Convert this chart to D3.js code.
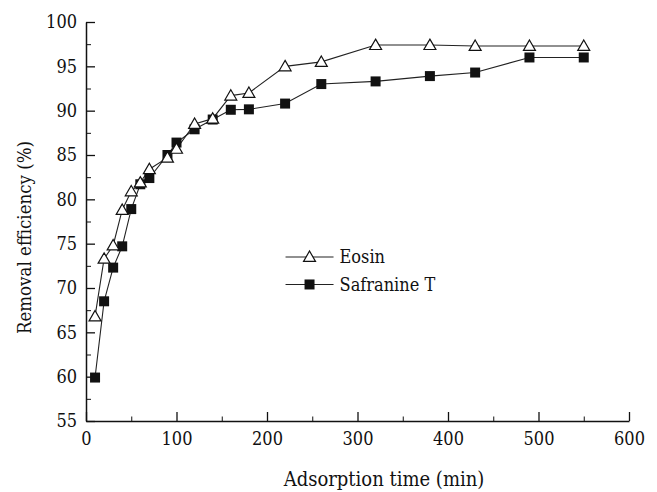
<!DOCTYPE html>
<html>
<head>
<meta charset="utf-8">
<script src="https://cdn.jsdelivr.net/npm/d3@7"></script>
<style>
  body { margin: 0; background: #fff; }
  svg text { fill: #111; }
  .axis path, .axis line { stroke: #111; }
  .axis text { font-size: 18px; }
</style>
</head>
<body>
<div class="chart"></div>
<script>
// data
var times = [10, 20, 30, 40, 50, 60, 70, 90, 100, 120, 140, 160, 180, 220, 260, 320, 380, 430, 490, 550];
var eosin = [66.8, 73.3, 74.8, 78.8, 80.9, 81.9, 83.4, 84.7, 85.7, 88.5, 89.1, 91.7, 92.0, 95.0, 95.5, 97.4, 97.4, 97.3, 97.3, 97.3];
var safranine = [59.9, 68.5, 72.3, 74.7, 78.9, 81.7, 82.4, 85.0, 86.4, 87.9, 89.0, 90.1, 90.15, 90.8, 93.0, 93.3, 93.9, 94.3, 96.0, 96.0];
var xTicks = [0, 100, 200, 300, 400, 500, 600];
var yTicks = [55, 60, 65, 70, 75, 80, 85, 90, 95, 100];
var seriesNames = ["Eosin", "Safranine T"];

var serif = "'DejaVu Serif Condensed', 'DejaVu Serif', serif";

var margin = {top: 22, right: 28, bottom: 71, left: 86},
    width = 657 - margin.left - margin.right,
    height = 492 - margin.top - margin.bottom;

var x = d3.scaleLinear().domain([0, 600]).range([0, width]);
var y = d3.scaleLinear().domain([55, 100]).range([height, 0]);

var svg = d3.select(".chart").append("svg")
    .attr("width", 657)
    .attr("height", 492)
    .style("font-family", serif)
    .style("font-stretch", "condensed")
  .append("g")
    .attr("transform", `translate(${margin.left}, ${margin.top})`);

// minor ticks first
svg.append("g")
    .attr("class", "axis")
    .attr("transform", `translate(0, ${height})`)
    .call(d3.axisBottom(x).tickValues(d3.range(50, 600, 100)).tickSizeInner(-4.5).tickSizeOuter(0).tickFormat(""))
    .call(g => g.select(".domain").remove());
svg.append("g")
    .attr("class", "axis")
    .call(d3.axisLeft(y).tickValues(d3.range(57.5, 100, 5)).tickSizeInner(-5).tickSizeOuter(0).tickFormat(""))
    .call(g => g.select(".domain").remove());

// x axis
svg.append("g")
    .attr("class", "axis")
    .attr("transform", `translate(0, ${height})`)
    .call(d3.axisBottom(x).tickValues(xTicks).tickSizeInner(-9).tickSizeOuter(0).tickPadding(8))
    .attr("font-family", null)
    .call(g => g.select(".domain").attr("stroke-width", 1.5))
    .call(g => g.selectAll(".tick line").attr("stroke-width", 1.3))
    .call(g => g.selectAll(".tick text").attr("dy", "0.9em"));
svg.append("text")
    .attr("x", width / 2 + 26.5)
    .attr("y", height + 65)
    .style("text-anchor", "middle")
    .style("font-size", "20px")
    .text("Adsorption time (min)");

// y axis
svg.append("g")
    .attr("class", "axis")
    .call(d3.axisLeft(y).tickValues(yTicks).tickSizeInner(-9).tickSizeOuter(0).tickPadding(9))
    .attr("font-family", null)
    .call(g => g.select(".domain").attr("stroke-width", 1.5))
    .call(g => g.selectAll(".tick line").attr("stroke-width", 1.3));
svg.append("text")
    .attr("transform", "rotate(-90)")
    .attr("x", -(height / 2 + 16))
    .attr("y", -margin.left + 31)
    .style("text-anchor", "middle")
    .style("font-size", "18.5px")
    .text("Removal efficiency (%)");

var line = d3.line()
    .x(function(d) { return x(d[0]); })
    .y(function(d) { return y(d[1]); });

var eData = times.map(function(t, i) { return [t, eosin[i]]; });
var sData = times.map(function(t, i) { return [t, safranine[i]]; });

svg.append("path").datum(sData)
    .attr("fill", "none").attr("stroke", "#222").attr("stroke-width", 1.1)
    .attr("d", line);
svg.append("path").datum(eData)
    .attr("fill", "none").attr("stroke", "#222").attr("stroke-width", 1.1)
    .attr("d", line);

var tri = d3.symbol().type(d3.symbolTriangle).size(62);
var sq = d3.symbol().type(d3.symbolSquare).size(100);

svg.selectAll(".sq").data(sData).enter().append("path")
    .attr("class", "sq")
    .attr("d", sq)
    .attr("fill", "#111")
    .attr("transform", function(d) { return `translate(${x(d[0])}, ${y(d[1])})`; });

svg.selectAll(".tri").data(eData).enter().append("path")
    .attr("class", "tri")
    .attr("d", tri)
    .attr("fill", "#fff").attr("stroke", "#111").attr("stroke-width", 1.2)
    .attr("transform", function(d) { return `translate(${x(d[0])}, ${y(d[1]) + 1})`; });

// legend
var legend = svg.append("g")
    .attr("transform", `translate(${x(247)}, ${y(73.5)})`);
seriesNames.forEach(function(name, i) {
    var g = legend.append("g").attr("transform", `translate(0, ${i * 27.5})`);
    g.append("line").attr("x1", -24).attr("x2", 24).attr("stroke", "#222").attr("stroke-width", 1.1);
    g.append("path")
        .attr("d", i === 0 ? tri : sq)
        .attr("transform", i === 0 ? "translate(0,1)" : null)
        .attr("fill", i === 0 ? "#fff" : "#111")
        .attr("stroke", i === 0 ? "#111" : "none")
        .attr("stroke-width", 1.2);
    g.append("text")
        .attr("x", 30)
        .attr("dy", "0.35em")
        .style("font-size", "18px")
        .text(name);
});
</script>
</body>
</html>
